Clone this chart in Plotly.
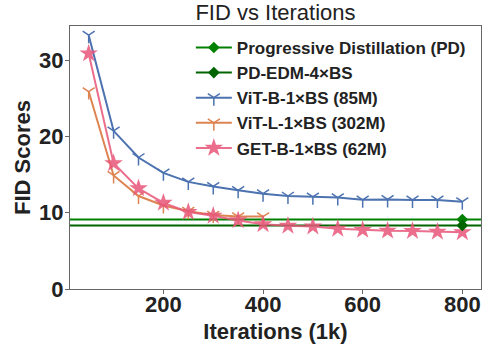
import plotly.graph_objects as go

iters = [50, 100, 150, 200, 250, 300, 350, 400, 450, 500, 550, 600, 650, 700, 750, 800]
vit_b = [33.3, 20.75, 17.25, 15.24, 14.05, 13.45, 12.95, 12.5, 12.2, 12.1, 12.0, 11.7, 11.75, 11.68, 11.68, 11.45]
vit_l_iters = [50, 100, 150, 200, 250, 300, 350, 400]
vit_l = [25.9, 14.9, 12.2, 10.95, 10.2, 9.7, 9.5, 9.5]
get_b = [30.9, 16.5, 13.2, 11.3, 10.1, 9.6, 9.0, 8.5, 8.3, 8.2, 7.9, 7.75, 7.65, 7.6, 7.5, 7.45]
pd_x = [800]
pd_val = [9.12]
pd_edm_val = [8.34]

BLUE = "#4C72B0"
ORANGE = "#DD8452"
PINK = "#E8577A"
GREEN = "#008000"
DGREEN = "#006400"
FONT = "Liberation Sans, Arial, sans-serif"

fig = go.Figure()
fig.add_hline(y=pd_val[0], line=dict(color=GREEN, width=2), layer="below")
fig.add_hline(y=pd_edm_val[0], line=dict(color=DGREEN, width=2), layer="below")

fig.add_trace(go.Scatter(x=iters, y=vit_b, mode="lines+markers", name="ViT-B-1×BS (85M)",
                         line=dict(color=BLUE, width=2), legendgroup="c", legendrank=3,
                         marker=dict(symbol="y-down", size=10, line=dict(color=BLUE, width=1.5))))
fig.add_trace(go.Scatter(x=vit_l_iters, y=vit_l, mode="lines+markers", name="ViT-L-1×BS (302M)",
                         line=dict(color=ORANGE, width=2), legendgroup="d", legendrank=4,
                         marker=dict(symbol="y-down", size=10, line=dict(color=ORANGE, width=1.5))))
fig.add_trace(go.Scatter(x=iters, y=get_b, mode="lines+markers", name="GET-B-1×BS (62M)",
                         line=dict(color=PINK, width=2), opacity=0.85, legendgroup="e", legendrank=5,
                         marker=dict(symbol="star", size=14, color=PINK)))
fig.add_trace(go.Scatter(x=pd_x, y=pd_val, mode="lines+markers", name="Progressive Distillation (PD)",
                         line=dict(color=GREEN, width=2), legendgroup="a", legendrank=1,
                         marker=dict(symbol="diamond", size=9, color=GREEN)))
fig.add_trace(go.Scatter(x=pd_x, y=pd_edm_val, mode="lines+markers", name="PD-EDM-4×BS",
                         line=dict(color=DGREEN, width=2), legendgroup="b", legendrank=2,
                         marker=dict(symbol="diamond", size=9, color=DGREEN)))

axis_common = dict(showline=True, linecolor="#666", linewidth=1.2, mirror=True, showgrid=False,
                   zeroline=False, ticks="outside", ticklen=4, tickcolor="#666", automargin=False,
                   tickfont=dict(family=FONT, size=22, color="#222", weight="bold"))

fig.update_layout(
    width=484, height=344,
    margin=dict(l=70, r=3, t=26, b=55),
    plot_bgcolor="white", paper_bgcolor="white",
    title=dict(text="FID vs Iterations", xref="paper", x=0.5, xanchor="center",
               yref="container", y=0.965, yanchor="middle",
               font=dict(family=FONT, size=22, color="#222")),
    xaxis=dict(range=[12.5, 837.5], tickvals=[200, 400, 600, 800], ticklabelstandoff=-9,
               title=dict(text="Iterations (1k)", standoff=8,
                          font=dict(family=FONT, size=22, color="#222", weight="bold")),
               **axis_common),
    yaxis=dict(range=[0, 34.5], tickvals=[0, 10, 20, 30], ticklabelstandoff=-3,
               title=dict(text="FID Scores", standoff=2,
                          font=dict(family=FONT, size=22, color="#222", weight="bold")),
               **axis_common),
    legend=dict(x=0.294, y=0.985, xanchor="left", yanchor="top", bgcolor="rgba(255,255,255,0)",
                traceorder="grouped", tracegroupgap=0, itemwidth=36,
                font=dict(family=FONT, size=17, color="#222", weight="bold")),
    showlegend=True,
)

fig.write_html("out.html", config={"displayModeBar": False},
               post_script="document.body.style.margin='0';document.body.style.overflow='hidden';")
